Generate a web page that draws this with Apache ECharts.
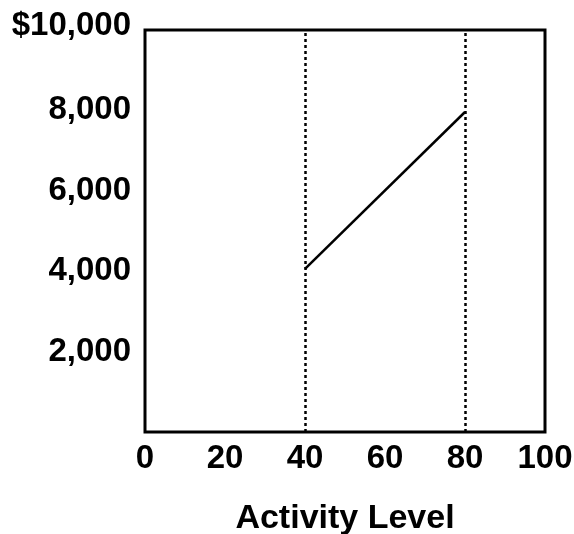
<!DOCTYPE html>
<html>
<head>
<meta charset="utf-8">
<script src="https://cdn.jsdelivr.net/npm/echarts@6/dist/echarts.min.js"></script>
<style>html,body{margin:0;padding:0;background:#fff}#c{width:574px;height:534px}</style>
</head>
<body>
<div id="c"></div>
<script>
var activityLevels = [40, 80];
var costValues = [4060, 7960];
var rangeBounds = [40, 80];
var xTicks = [0, 20, 40, 60, 80, 100];
var yTicks = [2000, 4000, 6000, 8000, 10000];
var xTitle = 'Activity Level';

var chart = echarts.init(document.getElementById('c'), null, {renderer: 'canvas'});
var font = '"Liberation Sans", Arial, Helvetica, sans-serif';
chart.setOption({
  animation: false,
  backgroundColor: '#fff',
  grid: {left: 145, right: 29, top: 30, bottom: 102, containLabel: false, outerBoundsMode: 'none',
         show: true, borderColor: '#000', borderWidth: 3, backgroundColor: 'transparent'},
  xAxis: {
    type: 'value', min: 0, max: 100, interval: 20,
    axisLine: {show: false}, axisTick: {show: false}, splitLine: {show: false},
    axisLabel: {margin: 10, color: '#000', fontFamily: font, fontWeight: 'bold', fontSize: 33},
    name: xTitle, nameLocation: 'middle', nameGap: 70,
    nameTextStyle: {color: '#000', fontFamily: font, fontWeight: 'bold', fontSize: 34}
  },
  yAxis: {
    type: 'value', min: 0, max: 10000, interval: 2000,
    axisLine: {show: false}, axisTick: {show: false}, splitLine: {show: false},
    axisLabel: {
      margin: 14, color: '#000', fontFamily: font, fontWeight: 'bold', fontSize: 33,
      formatter: function (v) {
        if (v === 0) return '';
        var s = v.toLocaleString('en-US');
        if (v === yTicks[yTicks.length - 1]) return '{top|$' + s + '}';
        return s;
      },
      rich: {top: {color: '#000', fontFamily: font, fontWeight: 'bold', fontSize: 33, padding: [0, 0, 8, 0]}}
    }
  },
  series: [{
    type: 'line',
    data: activityLevels.map(function (x, i) { return [x, costValues[i]]; }),
    showSymbol: false, symbol: 'none',
    lineStyle: {color: '#000', width: 2.5},
    markLine: {
      silent: true, symbol: 'none', label: {show: false},
      lineStyle: {color: '#000', width: 2.5, type: [3, 3]},
      data: rangeBounds.map(function (x) { return {xAxis: x}; })
    }
  }]
});
</script>
</body>
</html>
